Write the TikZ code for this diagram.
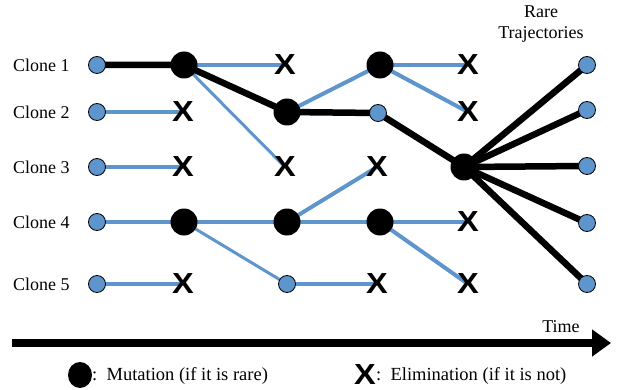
\documentclass[tikz,border=0pt]{standalone}
\usepackage{fontspec}
\setmainfont{Liberation Serif}
\newfontfamily\xfont{Liberation Sans}
\usetikzlibrary{arrows.meta,shapes.geometric}
\definecolor{cblue}{RGB}{94,149,204}
\pgfdeclarelayer{bg}
\pgfsetlayers{bg,main}
\newcommand{\xmark}{\scalebox{1.12}[1]{\xfont\bfseries\fontsize{29}{29}\selectfont X}}
\tikzset{
  blu/.style={circle, draw=black, line width=0.8pt, fill=cblue, minimum size=17pt, inner sep=0pt},
  mut/.style={circle, fill=black, minimum size=27pt, inner sep=0pt},
  elim/.style={inner sep=0pt},
  lbl/.style={font=\rmfamily\fontsize{18}{21}\selectfont, inner sep=0pt},
  leg/.style={font=\rmfamily\fontsize{18.5}{21}\selectfont, inner sep=0pt, anchor=west},
  bl/.style={draw=cblue, line width=4pt},
  blt/.style={draw=cblue, line width=3pt},
  bk/.style={draw=black, line width=6.5pt},
}
\begin{document}
\begin{tikzpicture}[x=1pt,y=-1pt]
\useasboundingbox (0,0) rectangle (618,390);
% labels
\foreach \i/\y in {1/65,2/112,3/167,4/222,5/284}{
  \node[lbl, anchor=west] (L\i) at (13,\y) {Clone \i};
  \node[blu] (S\i) at (97,\y) {};
}
\node[lbl, align=center] (rare) at (541,24) {Rare\\Trajectories};
% column 2
\node[mut] (M1) at (184,65) {};
\node[elim] (X12) at (183,112) {\xmark};
\node[elim] (X13) at (183,167) {\xmark};
\node[mut] (M4) at (184,222) {};
\node[elim] (X15) at (183,284) {\xmark};
% column 3
\node[elim] (X21) at (285,65) {\xmark};
\node[mut] (M2) at (287,112) {};
\node[elim] (X23) at (285,167) {\xmark};
\node[mut] (M5) at (287,222) {};
\node[blu] (B25) at (287,284) {};
% column 4
\node[mut] (M3) at (380,65) {};
\node[blu] (B32) at (378,113) {};
\node[elim] (X33) at (377,167) {\xmark};
\node[mut] (M6) at (380,222) {};
\node[elim] (X35) at (377,284) {\xmark};
% column 5
\node[elim] (X41) at (468,65) {\xmark};
\node[elim] (X42) at (468,112) {\xmark};
\node[mut] (H) at (464,167) {};
\node[elim] (X44) at (468,222) {\xmark};
\node[elim] (X45) at (468,284) {\xmark};
% right
\foreach \i/\y in {1/65,2/110,3/166,4/223,5/284}{
  \node[blu] (R\i) at (587,\y) {};
}
\begin{pgfonlayer}{bg}
  \draw[bk] (S1.center) -- (M1.center) -- (M2.center) -- (B32.center) -- (H.center);
  \draw[bl] (M1.center) -- (X21.center);
  \draw[blt] (M1.center) -- (X23.center);
  \draw[bl] (S2.center) -- (X12.center);
  \draw[bl] (M2.center) -- (M3.center);
  \draw[bl] (M3.center) -- (X41.center);
  \draw[bl] (M3.center) -- (X42.center);
  \draw[bl] (S3.center) -- (X13.center);
  \draw[bl] (S4.center) -- (M4.center) -- (M5.center) -- (M6.center) -- (X44.center);
  \draw[blt] (M4.center) -- (B25.center);
  \draw[bl] (M5.center) -- (X33.center);
  \draw[bl] (M6.center) -- (X45.center);
  \draw[bl] (S5.center) -- (X15.center);
  \draw[bl] (B25.center) -- (X35.center);
  \foreach \i in {1,...,5}{\draw[bk] (H.center) -- (R\i.center);}
\end{pgfonlayer}
% time arrow
\coordinate (t0) at (12,343);
\coordinate (t1) at (611,343);
\draw[line width=8pt, -{Triangle[length=19pt,width=26pt]}] (t0) -- (t1);
\node[lbl] (time) at (561,327) {Time};
% legend
\node[ellipse, fill=black, minimum width=24pt, minimum height=26pt, inner sep=0pt] (lm) at (80,375) {};
\node[leg] (lmt) at (92,376) {:\ \ Mutation (if it is rare)};
\node[elim] (lx) at (365,375) {\xmark};
\node[leg] (lxt) at (376,376) {:\ \ Elimination (if it is not)};
\end{tikzpicture}
\end{document}
